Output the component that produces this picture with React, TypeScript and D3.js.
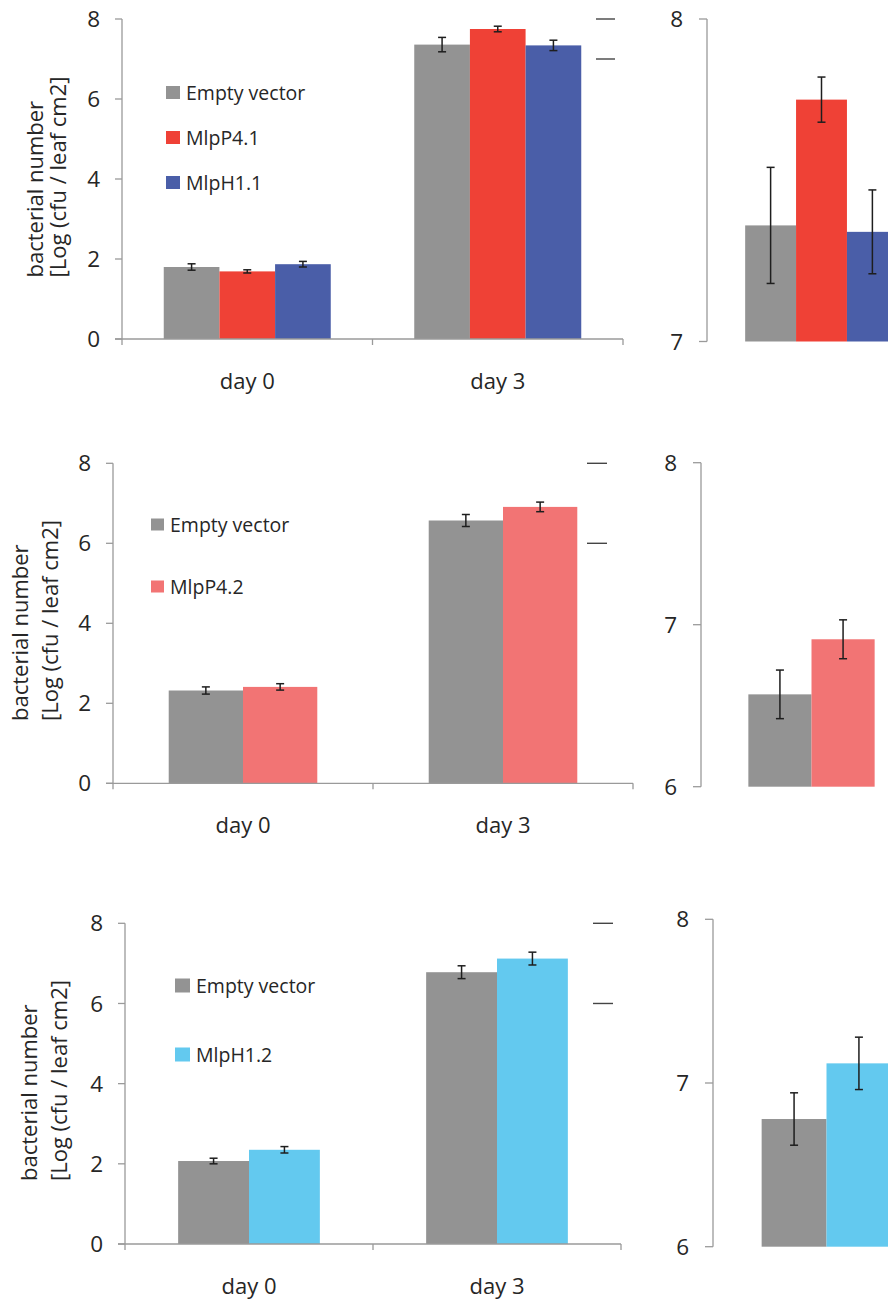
import React from "react";
import * as d3 from "d3";

// ---------- data ----------
const DAYS = ["day 0", "day 3"];

const ROW1_SERIES = ["Empty vector", "MlpP4.1", "MlpH1.1"];
const ROW1_MEANS = [
  [1.8, 7.36],
  [1.69, 7.75],
  [1.87, 7.34],
];
const ROW1_ERRS = [
  [0.08, 0.18],
  [0.04, 0.07],
  [0.07, 0.13],
];

const ROW2_SERIES = ["Empty vector", "MlpP4.2"];
const ROW2_MEANS = [
  [2.32, 6.57],
  [2.41, 6.91],
];
const ROW2_ERRS = [
  [0.09, 0.15],
  [0.08, 0.12],
];

const ROW3_SERIES = ["Empty vector", "MlpH1.2"];
const ROW3_MEANS = [
  [2.07, 6.78],
  [2.35, 7.12],
];
const ROW3_ERRS = [
  [0.07, 0.16],
  [0.08, 0.16],
];

const LEFT_TICKS = [0, 2, 4, 6, 8];
const ROW1_ZOOM_TICKS = [7, 8];
const ROW23_ZOOM_TICKS = [6, 7, 8];
const AXIS_TITLE = ["bacterial number", "[Log (cfu / leaf cm2]"];

const ROW1_COLORS = ["#939393", "#ef4136", "#4a5ea8"];
const ROW2_COLORS = ["#939393", "#f27474"];
const ROW3_COLORS = ["#939393", "#63c9ef"];

// ---------- layout ----------
const FONT = "'Open Sans', sans-serif";
const AXIS_COLOR = "#9a9a9a";
const TEXT_COLOR = "#262626";

type Row = {
  series: string[];
  means: number[][];
  errs: number[][];
  colors: string[];
  zoomTicks: number[];
  left: { ax: number; y0: number; yTop: number; xEnd: number };
  right: { ax: number; yBot: number; yTop: number; bandEnd: number };
  dashX: [number, number];
  title: { x1: number; x2: number; yStart: number };
  legend: { x: number; ys: number[]; size: number };
};

const ROWS: Row[] = [
  {
    series: ROW1_SERIES,
    means: ROW1_MEANS,
    errs: ROW1_ERRS,
    colors: ROW1_COLORS,
    zoomTicks: ROW1_ZOOM_TICKS,
    left: { ax: 122, y0: 339, yTop: 19, xEnd: 623 },
    right: { ax: 707, yBot: 341.5, yTop: 19, bandEnd: 936 },
    dashX: [596, 615],
    title: { x1: 43, x2: 66, yStart: 277.5 },
    legend: { x: 166, ys: [93, 138, 183], size: 14 },
  },
  {
    series: ROW2_SERIES,
    means: ROW2_MEANS,
    errs: ROW2_ERRS,
    colors: ROW2_COLORS,
    zoomTicks: ROW23_ZOOM_TICKS,
    left: { ax: 113, y0: 783.3, yTop: 463.3, xEnd: 633 },
    right: { ax: 701, yBot: 786.7, yTop: 462.7, bandEnd: 922 },
    dashX: [587, 607],
    title: { x1: 28, x2: 58, yStart: 721 },
    legend: { x: 151, ys: [525, 587], size: 13 },
  },
  {
    series: ROW3_SERIES,
    means: ROW3_MEANS,
    errs: ROW3_ERRS,
    colors: ROW3_COLORS,
    zoomTicks: ROW23_ZOOM_TICKS,
    left: { ax: 125, y0: 1244, yTop: 923.3, xEnd: 621 },
    right: { ax: 713, yBot: 1246.7, yTop: 919.3, bandEnd: 940 },
    dashX: [593, 613],
    title: { x1: 37, x2: 67, yStart: 1181 },
    legend: { x: 175, ys: [986, 1055], size: 15 },
  },
];

function Bars({
  row,
  xBand,
  y,
  dayIdxs,
  base,
}: {
  row: Row;
  xBand: d3.ScaleBand<string>;
  y: d3.ScaleLinear<number, number>;
  dayIdxs: number[];
  base: number;
}) {
  const inner = d3
    .scaleBand<number>()
    .domain(row.series.map((_, i) => i))
    .range([0, xBand.bandwidth()])
    .paddingInner(0)
    .paddingOuter(0.75);
  const out: JSX.Element[] = [];
  dayIdxs.forEach((di) => {
    const day = DAYS[di];
    const bx = xBand(day) as number;
    row.series.forEach((_, si) => {
      const v = row.means[si][di];
      const e = row.errs[si][di];
      const x = bx + (inner(si) as number);
      const w = inner.bandwidth();
      const cx = x + w / 2;
      const cap = 4;
      out.push(
        <g key={`${di}-${si}`}>
          <rect x={x} y={y(v)} width={w} height={y(base) - y(v)} fill={row.colors[si]} />
          <line x1={cx} x2={cx} y1={y(v + e)} y2={y(v - e)} stroke="#1e1e1e" strokeWidth={1.5} />
          <line x1={cx - cap} x2={cx + cap} y1={y(v + e)} y2={y(v + e)} stroke="#1e1e1e" strokeWidth={1.5} />
          <line x1={cx - cap} x2={cx + cap} y1={y(v - e)} y2={y(v - e)} stroke="#1e1e1e" strokeWidth={1.5} />
        </g>
      );
    });
  });
  return <g>{out}</g>;
}

function RowChart({ row }: { row: Row }) {
  const L = row.left;
  const R = row.right;
  const yL = d3.scaleLinear().domain([0, 8]).range([L.y0, L.yTop]);
  const xL = d3.scaleBand<string>().domain(DAYS).range([L.ax, L.xEnd]).padding(0);
  const zDomain = d3.extent(row.zoomTicks) as [number, number];
  const yR = d3.scaleLinear().domain(zDomain).range([R.yBot, R.yTop]);
  const xR = d3.scaleBand<string>().domain([DAYS[1]]).range([R.ax, R.bandEnd]).padding(0);

  const catTicks = [L.ax, ...DAYS.map((d) => (xL(d) as number) + xL.bandwidth())];

  return (
    <g>
      {/* axis title */}
      <g fontFamily={FONT} fontSize={22} fill={TEXT_COLOR}>
        <text transform={`translate(${row.title.x1},${row.title.yStart}) rotate(-90)`} textAnchor="start">
          {AXIS_TITLE[0]}
        </text>
        <text transform={`translate(${row.title.x2},${row.title.yStart}) rotate(-90)`} textAnchor="start">
          {AXIS_TITLE[1]}
        </text>
      </g>

      {/* left chart bars */}
      <Bars row={row} xBand={xL} y={yL} dayIdxs={[0, 1]} base={0} />

      {/* left axes */}
      <g stroke={AXIS_COLOR} strokeWidth={1.3} fill="none">
        <line x1={L.ax} x2={L.ax} y1={yL(8)} y2={yL(0)} />
        {LEFT_TICKS.map((t) => (
          <line key={t} x1={L.ax - 7} x2={L.ax} y1={yL(t)} y2={yL(t)} />
        ))}
        <line x1={L.ax - 7} x2={L.xEnd} y1={yL(0)} y2={yL(0)} />
        {catTicks.map((x, i) => (
          <line key={i} x1={x} x2={x} y1={yL(0)} y2={yL(0) + 6} />
        ))}
      </g>
      <g fontFamily={FONT} fontSize={22.5} fill={TEXT_COLOR} textAnchor="end">
        {LEFT_TICKS.map((t) => (
          <text key={t} x={L.ax - 22} y={yL(t)} dy="0.36em">
            {t}
          </text>
        ))}
      </g>
      <g fontFamily={FONT} fontSize={22} fill={TEXT_COLOR} textAnchor="middle">
        {DAYS.map((d) => (
          <text key={d} x={(xL(d) as number) + xL.bandwidth() / 2} y={yL(0) + 50}>
            {d}
          </text>
        ))}
      </g>

      {/* legend */}
      <g fontFamily={FONT} fontSize={19.5} fill={TEXT_COLOR}>
        {row.series.map((s, i) => (
          <g key={s}>
            <rect
              x={row.legend.x}
              y={row.legend.ys[i] - row.legend.size / 2}
              width={row.legend.size}
              height={row.legend.size - 1}
              fill={row.colors[i]}
            />
            <text x={row.legend.x + row.legend.size + 6} y={row.legend.ys[i]} dy="0.36em">
              {s}
            </text>
          </g>
        ))}
      </g>

      {/* zoom range marks */}
      <g stroke="#444" strokeWidth={1.4}>
        {zDomain.map((v) => (
          <line key={v} x1={row.dashX[0]} x2={row.dashX[1]} y1={yL(v)} y2={yL(v)} />
        ))}
      </g>

      {/* right zoom chart */}
      <Bars row={row} xBand={xR} y={yR} dayIdxs={[1]} base={zDomain[0]} />
      <g stroke={AXIS_COLOR} strokeWidth={1.3} fill="none">
        <line x1={R.ax} x2={R.ax} y1={yR(zDomain[1])} y2={yR(zDomain[0])} />
        {row.zoomTicks.map((t) => (
          <line key={t} x1={R.ax - 8} x2={R.ax} y1={yR(t)} y2={yR(t)} />
        ))}
      </g>
      <g fontFamily={FONT} fontSize={22.5} fill={TEXT_COLOR} textAnchor="end">
        {row.zoomTicks.map((t) => (
          <text key={t} x={R.ax - 24} y={yR(t)} dy="0.36em">
            {t}
          </text>
        ))}
      </g>
    </g>
  );
}

export default function App() {
  return (
    <svg
      width={888}
      height={1305}
      viewBox="0 0 888 1305"
      style={{ position: "absolute", left: 0, top: 0, display: "block", background: "#fff" }}
    >
      <rect x={0} y={0} width={888} height={1305} fill="#fff" />
      {ROWS.map((r, i) => (
        <RowChart key={i} row={r} />
      ))}
    </svg>
  );
}
